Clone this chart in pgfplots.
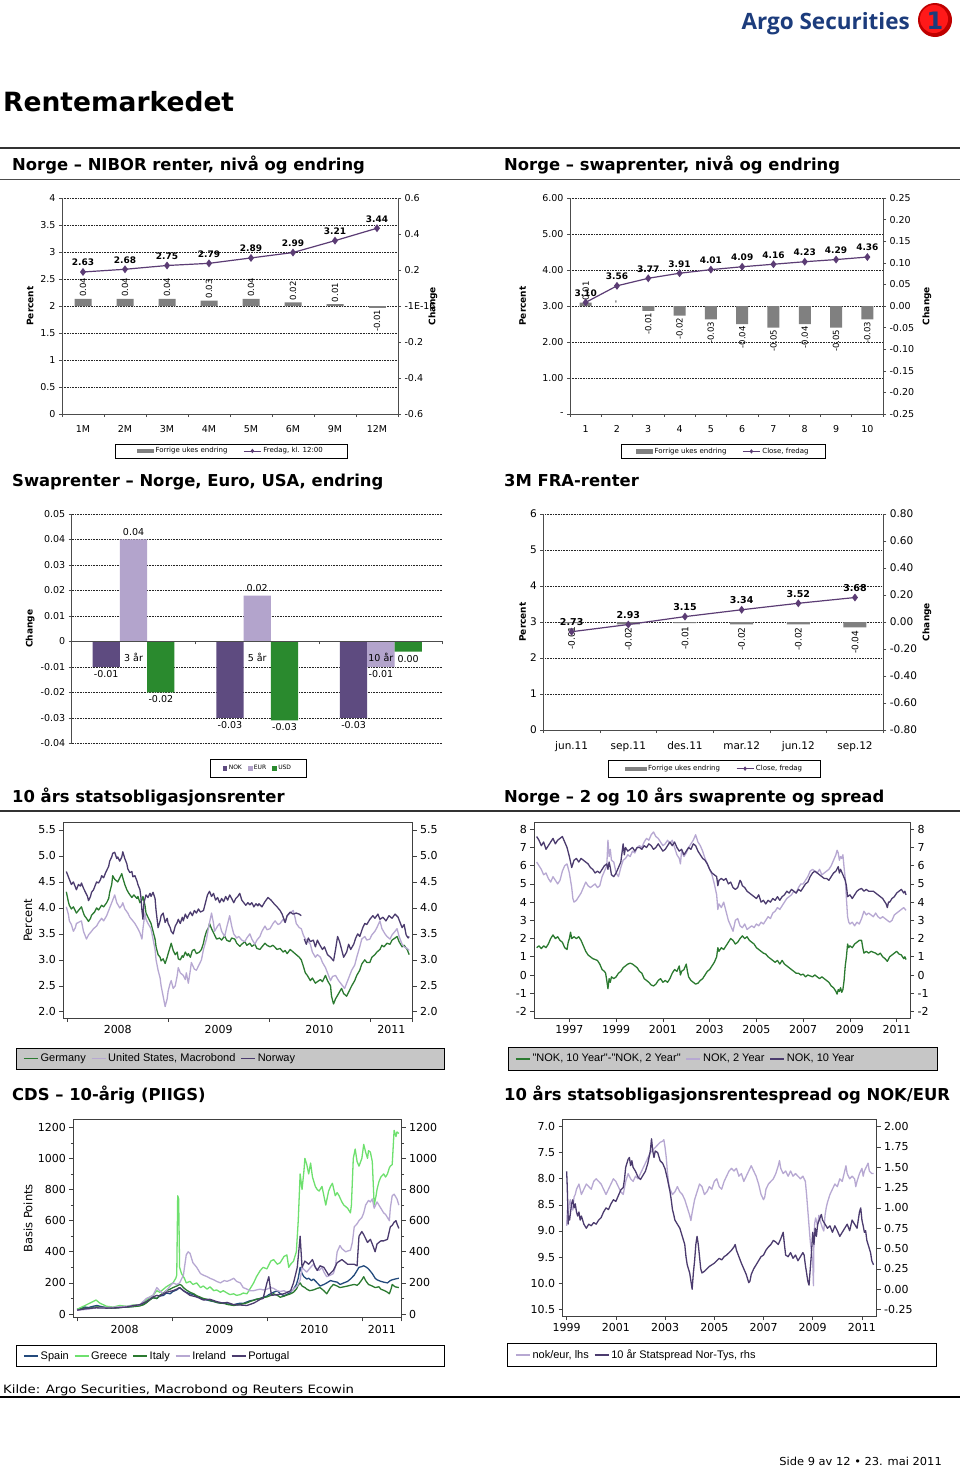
\documentclass[border=0pt]{standalone}
\usepackage{fontspec}
\setmainfont{DejaVu Sans}
\newfontfamily\arialfont{Liberation Sans}
\newfontfamily\logofont{Open Sans}
\usepackage{graphicx}
\usepackage{pgfplots}
\pgfplotsset{compat=1.18}
\newcommand{\fsz}[1]{\fontsize{#1}{#1}\selectfont}

\definecolor{linepurple}{HTML}{5B3C74}
\definecolor{barGray}{HTML}{808080}
\definecolor{nokc}{HTML}{5E4B80}
\definecolor{eurc}{HTML}{B3A4CC}
\definecolor{usdc}{HTML}{2A8A2E}
\definecolor{darkpurple}{HTML}{4B3B6E}
\definecolor{lightpurple}{HTML}{B7A8D2}
\definecolor{dkgreen}{HTML}{2B7A30}
\definecolor{ltgreen}{HTML}{6EE06E}
\definecolor{navy}{HTML}{234A7C}
\definecolor{logoblue}{HTML}{1C3C7C}
\definecolor{legfill}{HTML}{C6C6C6}

\pgfplotsset{
  /pgf/number format/assume math mode=true,
  cbase/.style={scale only axis, anchor=north west, clip=false,
    scaled x ticks=false, scaled y ticks=false,
    axis line style={black!70, line width=0.7pt},
    tick style={black!70, line width=0.6pt},
    tick align=outside, major tick length=3pt,
    ticklabel style={font=\fsz{9.5}},
    xticklabel style={yshift=-5pt},
    ylabel style={font=\bfseries\fsz{9}, anchor=center},
    major grid style={black!85, line width=0.6pt, dash pattern=on 0.8pt off 0.8pt},
    legend style={draw=none, fill=none, font=\fsz{7}, legend columns=2, anchor=center,
      /tikz/every even column/.append style={column sep=14pt}},
  },
  hid/.style={scale only axis, anchor=north west, hide axis, clip=false},
  tsbase/.style={scale only axis, anchor=north west,
    scaled x ticks=false, scaled y ticks=false,
    axis line style={black!75, line width=0.8pt},
    tick style={black!75, line width=0.6pt},
    tick align=outside, major tick length=4pt, minor tick length=2.5pt,
    ticklabel style={font=\fsz{11}},
    ylabel style={font=\fsz{11.5}, anchor=center},
    every axis plot/.append style={line width=1.3pt, line join=round},
    legend style={draw=none, fill=none, font=\arialfont\fsz{11}, legend columns=-1, anchor=west,
      /tikz/every even column/.append style={column sep=3pt}},
    legend image code/.code={\draw[##1, line width=1.4pt] (0pt,0pt) -- (14pt,0pt);},
  },
}

\begin{document}
\begin{tikzpicture}
\path[use as bounding box, fill=white] (0pt,0pt) rectangle (960pt,-1467pt);

% ---------- page furniture
\node[anchor=base east, font=\logofont\bfseries\fsz{22.5}, text=logoblue, inner sep=0pt] at (910pt,-29pt) {Argo Securities};
\fill[red!75!black] (935pt,-20pt) circle (17pt);
\fill[red!90] (934pt,-19pt) circle (14pt);
\node[font=\bfseries\fsz{24}, text=logoblue] at (935pt,-21pt) {1};
\node[anchor=base west, font=\bfseries\fsz{26.5}, inner sep=0pt] at (3pt,-111pt) {Rentemarkedet};
\draw[line width=1.6pt, black!80] (0pt,-148pt) -- (960pt,-148pt);
\draw[line width=1pt, black!70] (0pt,-179pt) -- (960pt,-179pt);
\begin{scope}[every node/.style={anchor=base west, font=\bfseries\fsz{16.4}, inner sep=0pt}]
\node at (12pt,-170pt) {Norge – NIBOR renter, nivå og endring};
\node at (504pt,-170pt) {Norge – swaprenter, nivå og endring};
\node at (12pt,-486pt) {Swaprenter – Norge, Euro, USA, endring};
\node at (504pt,-486pt) {3M FRA-renter};
\node at (12pt,-802pt) {10 års statsobligasjonsrenter};
\node at (504pt,-802pt) {Norge – 2 og 10 års swaprente og spread};
\node at (12pt,-1100pt) {CDS – 10-årig (PIIGS)};
\node at (504pt,-1100pt) {10 års statsobligasjonsrentespread og NOK/EUR};
\end{scope}
\draw[line width=1.6pt, black!80] (0pt,-811pt) -- (960pt,-811pt);
\node[anchor=base west, font=\fsz{11.5}, inner sep=0pt] at (3pt,-1393pt) {\scalebox{1.15}[1]{Kilde: Argo Securities, Macrobond og Reuters Ecowin}};
\draw[line width=2pt, black] (0pt,-1397pt) -- (960pt,-1397pt);
\node[anchor=base east, font=\fsz{11}, inner sep=0pt] at (942pt,-1465pt) {\scalebox{1.04}[1]{Side 9 av 12 • 23. mai 2011}};

% legend frames
\draw[black, line width=0.6pt] (115pt,-444pt) rectangle (347pt,-458pt);
\draw[black, line width=0.6pt] (621.7pt,-444.3pt) rectangle (825pt,-458.3pt);
\draw[black, line width=0.6pt] (210pt,-759pt) rectangle (306pt,-777pt);
\draw[black, line width=0.6pt] (608.3pt,-760pt) rectangle (820.7pt,-777.3pt);
\draw[black, line width=0.7pt, fill=legfill] (16pt,-1048pt) rectangle (444pt,-1069pt);
\draw[black, line width=0.7pt, fill=legfill] (508pt,-1047.7pt) rectangle (937pt,-1070pt);
\draw[black, line width=0.7pt] (16pt,-1345.7pt) rectangle (444pt,-1366.7pt);
\draw[black, line width=0.7pt] (507.7pt,-1343.3pt) rectangle (936.7pt,-1366.7pt);

% ================= P1 NIBOR
\begin{axis}[cbase, at={(62pt,-198pt)}, width=336pt, height=216pt,
  xmin=0.5, xmax=8.5, ymin=0, ymax=4,
  axis x line*=bottom, axis y line*=left,
  xtick={0.5,1.5,2.5,3.5,4.5,5.5,6.5,7.5,8.5}, x tick label as interval,
  xticklabels={1M,2M,3M,4M,5M,6M,9M,12M},
  ytick={0,0.5,1,1.5,2,2.5,3,3.5,4}, yticklabels={0,0.5,1,1.5,2,2.5,3,3.5,4},
  ymajorgrids,
  ylabel={Percent}, ylabel style={at={(axis description cs:-0.095,0.5)}},
  legend style={at={(axis description cs:0.503,-0.171)}}]
\addlegendimage{legend image code/.code={\fill[barGray] (0pt,-1.7pt) rectangle (16pt,1.7pt);}}
\addlegendentry{Forrige ukes endring}
\addlegendimage{linepurple, line width=0.8pt, mark=diamond*, mark size=1.6pt}
\addlegendentry{Fredag, kl. 12:00}
\end{axis}
\begin{axis}[cbase, at={(62pt,-198pt)}, width=336pt, height=216pt,
  xmin=0.5, xmax=8.5, ymin=-0.6, ymax=0.6,
  axis y line*=right, axis x line=none,
  ytick={-0.6,-0.4,-0.2,0,0.2,0.4,0.6}, yticklabels={-0.6,-0.4,-0.2,-1E-16,0.2,0.4,0.6},
  ylabel={Change}, ylabel style={at={(axis description cs:1.104,0.5)}}]
\addplot[ybar, bar width=17pt, bar shift=0pt, fill=barGray, draw=none, nodes near coords, point meta=explicit symbolic,
  every node near coord/.style={rotate=90, anchor=west, font=\fsz{8.5}, inner sep=2pt, text=black}]
  coordinates {(1,0.04)[0.04] (2,0.04)[0.04] (3,0.04)[0.04] (4,0.03)[0.03] (5,0.04)[0.04] (6,0.02)[0.02] (7,0.01)[0.01]};
\addplot[ybar, bar width=17pt, bar shift=0pt, fill=barGray, draw=none, nodes near coords, point meta=explicit symbolic,
  every node near coord/.style={rotate=90, anchor=east, font=\fsz{8.5}, inner sep=2pt, text=black}]
  coordinates {(8,-0.01)[-0.01]};
\end{axis}
\begin{axis}[hid, at={(62pt,-198pt)}, width=336pt, height=216pt, xmin=0.5, xmax=8.5, ymin=0, ymax=4]
\addplot[linepurple, line width=1.2pt, mark=diamond*, mark size=3pt, nodes near coords, point meta=explicit symbolic,
  every node near coord/.style={anchor=south, font=\bfseries\fsz{9}, text=black, yshift=2pt}]
  coordinates {(1,2.63)[2.63] (2,2.68)[2.68] (3,2.75)[2.75] (4,2.79)[2.79] (5,2.89)[2.89] (6,2.99)[2.99] (7,3.21)[3.21] (8,3.44)[3.44]};
\end{axis}

% ================= P2 swap
\begin{axis}[cbase, at={(570pt,-198pt)}, width=313pt, height=216pt,
  xmin=0.5, xmax=10.5, ymin=0, ymax=6,
  axis x line*=bottom, axis y line*=left,
  xtick={0.5,1.5,2.5,3.5,4.5,5.5,6.5,7.5,8.5,9.5,10.5}, x tick label as interval,
  xticklabels={1,2,3,4,5,6,7,8,9,10},
  ytick={0,1,2,3,4,5,6}, yticklabels={-,1.00,2.00,3.00,4.00,5.00,6.00},
  ymajorgrids,
  ylabel={Percent}, ylabel style={at={(axis description cs:-0.151,0.5)}},
  legend style={at={(axis description cs:0.49,-0.173)}}]
\addlegendimage{legend image code/.code={\fill[barGray] (0pt,-1.7pt) rectangle (16pt,1.7pt);}}
\addlegendentry{Forrige ukes endring}
\addlegendimage{linepurple, line width=0.8pt, mark=diamond*, mark size=1.6pt}
\addlegendentry{Close, fredag}
\end{axis}
\begin{axis}[cbase, at={(570pt,-198pt)}, width=313pt, height=216pt,
  xmin=0.5, xmax=10.5, ymin=-0.25, ymax=0.25,
  axis y line*=right, axis x line=none,
  ytick={-0.25,-0.2,-0.15,-0.1,-0.05,0,0.05,0.1,0.15,0.2,0.25},
  yticklabels={-0.25,-0.20,-0.15,-0.10,-0.05,0.00,0.05,0.10,0.15,0.20,0.25},
  ylabel={Change}, ylabel style={at={(axis description cs:1.14,0.5)}}]
\addplot[ybar, bar width=12pt, bar shift=0pt, fill=barGray, draw=none, nodes near coords, point meta=explicit symbolic,
  every node near coord/.style={rotate=90, anchor=west, font=\fsz{8.5}, inner sep=2pt, text=black}]
  coordinates {(1,0.008)[0.01] (2,0)[-]};
\addplot[ybar, bar width=12pt, bar shift=0pt, fill=barGray, draw=none, nodes near coords, point meta=explicit symbolic,
  every node near coord/.style={rotate=90, anchor=east, font=\fsz{8.5}, inner sep=2pt, text=black}]
  coordinates {(3,-0.011)[-0.01] (4,-0.022)[-0.02] (5,-0.031)[-0.03] (6,-0.042)[-0.04] (7,-0.05)[-0.05] (8,-0.042)[-0.04] (9,-0.05)[-0.05] (10,-0.031)[-0.03]};
\end{axis}
\begin{axis}[hid, at={(570pt,-198pt)}, width=313pt, height=216pt, xmin=0.5, xmax=10.5, ymin=0, ymax=6]
\addplot[linepurple, line width=1.2pt, mark=diamond*, mark size=3pt, nodes near coords, point meta=explicit symbolic,
  every node near coord/.style={anchor=south, font=\bfseries\fsz{9}, text=black, yshift=2pt}]
  coordinates {(1,3.10)[3.10] (2,3.56)[3.56] (3,3.77)[3.77] (4,3.91)[3.91] (5,4.01)[4.01] (6,4.09)[4.09] (7,4.16)[4.16] (8,4.23)[4.23] (9,4.29)[4.29] (10,4.36)[4.36]};
\end{axis}

% ================= P3 swap changes
\begin{axis}[cbase, at={(71.7pt,-514pt)}, width=371pt, height=229.3pt,
  xmin=0.5, xmax=3.5, ymin=-0.04, ymax=0.05,
  axis x line*=middle, axis y line*=left,
  xtick={0.5,1.5,2.5,3.5}, x tick label as interval, xticklabels={,,},
  ytick={-0.04,-0.03,-0.02,-0.01,0,0.01,0.02,0.03,0.04,0.05},
  yticklabels={-0.04,-0.03,-0.02,-0.01,0,0.01,0.02,0.03,0.04,0.05},
  ymajorgrids,
  ylabel={Change}, ylabel style={at={(axis description cs:-0.112,0.5)}},
  legend style={at={(axis description cs:0.502,-0.1077)}, font=\fsz{6}, legend columns=3,
    /tikz/every even column/.append style={column sep=4pt}}]
\addlegendimage{legend image code/.code={\fill[nokc] (0pt,-1.8pt) rectangle (3.6pt,1.8pt);}}
\addlegendentry{NOK}
\addlegendimage{legend image code/.code={\fill[eurc] (0pt,-1.8pt) rectangle (3.6pt,1.8pt);}}
\addlegendentry{EUR}
\addlegendimage{legend image code/.code={\fill[usdc] (0pt,-1.8pt) rectangle (3.6pt,1.8pt);}}
\addlegendentry{USD}
\addplot[ybar, forget plot, bar width=27.3pt, bar shift=-27.3pt, fill=nokc, draw=none]
  coordinates {(1,-0.01) (2,-0.03) (3,-0.03)};
\addplot[ybar, forget plot, bar width=27.3pt, bar shift=0pt, fill=eurc, draw=none]
  coordinates {(1,0.04) (2,0.018) (3,-0.01)};
\addplot[ybar, forget plot, bar width=27.3pt, bar shift=27.3pt, fill=usdc, draw=none]
  coordinates {(1,-0.02) (2,-0.031) (3,-0.004)};
% value labels at the bar centres (bar width = 0.2208 x-units)
\addplot[draw=none, mark=none, forget plot, nodes near coords, point meta=explicit symbolic,
  every node near coord/.style={anchor=south, font=\fsz{9.5}, text=black}]
  coordinates {(1,0.04)[0.04] (2,0.018)[0.02]};
\addplot[draw=none, mark=none, forget plot, nodes near coords, point meta=explicit symbolic,
  every node near coord/.style={anchor=north, font=\fsz{9.5}, text=black}]
  coordinates {(0.7792,-0.01)[-0.01] (1.7792,-0.03)[-0.03] (2.7792,-0.03)[-0.03] (3,-0.01)[-0.01] (1.2208,-0.02)[-0.02] (2.2208,-0.031)[-0.03] (3.2208,-0.004)[0.00]};
\end{axis}
\begin{axis}[cbase, at={(71.7pt,-514pt)}, width=371pt, height=229.3pt,
  xmin=0.5, xmax=3.5, ymin=-0.04, ymax=0.05,
  axis x line*=middle, axis y line=none,
  xtick={0.5,1.5,2.5,3.5}, x tick label as interval, xticklabels={3 år,5 år,10 år},
  xticklabel style={yshift=0pt}, xtick style={draw=none}]
\end{axis}

% ================= P4 FRA
\begin{axis}[cbase, at={(543.3pt,-514pt)}, width=340pt, height=216pt,
  ticklabel style={font=\fsz{10.5}},
  xmin=0.5, xmax=6.5, ymin=0, ymax=6,
  axis x line*=bottom, axis y line*=left,
  xtick={0.5,1.5,2.5,3.5,4.5,5.5,6.5}, x tick label as interval,
  xticklabels={jun.11,sep.11,des.11,mar.12,jun.12,sep.12},
  ytick={0,1,2,3,4,5,6}, yticklabels={0,1,2,3,4,5,6},
  ymajorgrids,
  ylabel={Percent}, ylabel style={at={(axis description cs:-0.0606,0.5)}},
  legend style={at={(axis description cs:0.5035,-0.179)}}]
\addlegendimage{legend image code/.code={\fill[barGray] (0pt,-1.7pt) rectangle (21pt,1.7pt);}}
\addlegendentry{Forrige ukes endring}
\addlegendimage{linepurple, line width=0.8pt, mark=diamond*, mark size=1.6pt}
\addlegendentry{Close, fredag}
\end{axis}
\begin{axis}[cbase, at={(543.3pt,-514pt)}, width=340pt, height=216pt,
  ticklabel style={font=\fsz{10.5}},
  xmin=0.5, xmax=6.5, ymin=-0.8, ymax=0.8,
  axis y line*=right, axis x line=none,
  ytick={-0.8,-0.6,-0.4,-0.2,0,0.2,0.4,0.6,0.8},
  yticklabels={-0.80,-0.60,-0.40,-0.20,0.00,0.20,0.40,0.60,0.80},
  ylabel={Change}, ylabel style={at={(axis description cs:1.128,0.5)}}]
\addplot[ybar, bar width=23pt, bar shift=0pt, fill=barGray, draw=none, nodes near coords, point meta=explicit symbolic,
  every node near coord/.style={rotate=90, anchor=east, font=\fsz{9}, inner sep=3pt, text=black}]
  coordinates {(1,-0.008)[-0.01] (2,-0.017)[-0.02] (3,-0.008)[-0.01] (4,-0.017)[-0.02] (5,-0.017)[-0.02] (6,-0.04)[-0.04]};
\end{axis}
\begin{axis}[hid, at={(543.3pt,-514pt)}, width=340pt, height=216pt, xmin=0.5, xmax=6.5, ymin=0, ymax=6]
\addplot[linepurple, line width=1.2pt, mark=diamond*, mark size=3pt, nodes near coords, point meta=explicit symbolic,
  every node near coord/.style={anchor=south, font=\bfseries\fsz{9.5}, text=black, yshift=2pt}]
  coordinates {(1,2.73)[2.73] (2,2.93)[2.93] (3,3.15)[3.15] (4,3.34)[3.34] (5,3.52)[3.52] (6,3.68)[3.68]};
\end{axis}

% ================= P5 10y government yields
\begin{axis}[tsbase, at={(63.3pt,-822.7pt)}, width=349.4pt, height=195.3pt,
  xmin=2007.96, xmax=2011.425, ymin=1.88, ymax=5.64,
  ytick pos=left, xtick pos=left, unbounded coords=jump,
  xtick={2008,2009,2010,2011,2011.425}, x tick label as interval, xticklabels={2008,2009,2010,2011},
  ytick={2,2.5,3,3.5,4,4.5,5,5.5}, yticklabels={2.0,2.5,3.0,3.5,4.0,4.5,5.0,5.5},
  ylabel={Percent}, ylabel style={at={(axis description cs:-0.101,0.5)}},
  legend style={at={(axis description cs:-0.124,-0.2074)}}]
\addplot[dkgreen] coordinates {(2007.99,4.31)(2008.01,4.12)(2008.02,4.05)(2008.04,3.98)(2008.06,4.02)(2008.09,3.90)(2008.11,3.95)(2008.14,4.02)(2008.16,3.90)(2008.17,3.85)(2008.19,3.80)(2008.21,3.74)(2008.23,3.80)(2008.24,3.86)(2008.27,3.92)(2008.29,4.00)(2008.31,3.96)(2008.34,4.05)(2008.36,4.02)(2008.39,4.10)(2008.41,4.18)(2008.42,4.30)(2008.44,4.45)(2008.45,4.62)(2008.47,4.55)(2008.50,4.50)(2008.52,4.58)(2008.54,4.66)(2008.55,4.58)(2008.57,4.45)(2008.59,4.35)(2008.61,4.28)(2008.64,4.20)(2008.66,4.25)(2008.69,4.18)(2008.70,4.22)(2008.72,4.10)(2008.74,4.15)(2008.75,4.22)(2008.77,4.05)(2008.78,3.90)(2008.80,3.82)(2008.83,3.70)(2008.85,3.55)(2008.87,3.40)(2008.88,3.25)(2008.90,3.10)(2008.92,3.05)(2008.93,2.98)(2008.95,3.02)(2008.97,2.93)(2008.99,3.05)(2009.00,3.12)(2009.02,3.25)(2009.03,3.32)(2009.05,3.18)(2009.07,3.10)(2009.09,3.15)(2009.10,3.02)(2009.12,3.00)(2009.14,3.08)(2009.15,3.05)(2009.17,3.15)(2009.19,3.08)(2009.20,3.12)(2009.22,3.05)(2009.24,3.18)(2009.26,3.20)(2009.28,3.12)(2009.31,3.15)(2009.33,3.20)(2009.35,3.32)(2009.36,3.42)(2009.38,3.55)(2009.40,3.62)(2009.41,3.70)(2009.43,3.60)(2009.45,3.52)(2009.46,3.48)(2009.48,3.40)(2009.51,3.42)(2009.53,3.38)(2009.56,3.46)(2009.58,3.38)(2009.61,3.35)(2009.63,3.42)(2009.66,3.40)(2009.68,3.32)(2009.71,3.26)(2009.73,3.30)(2009.76,3.35)(2009.78,3.28)(2009.81,3.32)(2009.83,3.26)(2009.86,3.30)(2009.88,3.22)(2009.91,3.20)(2009.93,3.25)(2009.96,3.32)(2009.98,3.28)(2010.01,3.25)(2010.04,3.28)(2010.08,3.20)(2010.11,3.22)(2010.14,3.15)(2010.16,3.18)(2010.18,3.12)(2010.21,3.20)(2010.24,3.15)(2010.27,3.10)(2010.30,3.05)(2010.32,3.00)(2010.34,2.88)(2010.36,2.75)(2010.38,2.70)(2010.41,2.60)(2010.43,2.65)(2010.46,2.55)(2010.48,2.58)(2010.51,2.62)(2010.53,2.58)(2010.56,2.70)(2010.58,2.60)(2010.61,2.50)(2010.62,2.30)(2010.64,2.15)(2010.66,2.25)(2010.69,2.35)(2010.71,2.42)(2010.72,2.45)(2010.74,2.35)(2010.77,2.30)(2010.79,2.38)(2010.82,2.50)(2010.85,2.60)(2010.87,2.70)(2010.90,2.80)(2010.92,2.92)(2010.95,3.00)(2010.97,2.95)(2011.00,2.95)(2011.02,3.05)(2011.05,3.10)(2011.07,3.15)(2011.10,3.20)(2011.12,3.28)(2011.14,3.25)(2011.17,3.32)(2011.20,3.30)(2011.22,3.38)(2011.25,3.42)(2011.27,3.45)(2011.29,3.35)(2011.32,3.25)(2011.34,3.28)(2011.37,3.20)(2011.39,3.10)};
\addlegendentry{Germany}
\addplot[lightpurple] coordinates {(2007.99,4.02)(2008.01,3.88)(2008.02,3.75)(2008.04,3.68)(2008.06,3.55)(2008.08,3.62)(2008.09,3.70)(2008.11,3.72)(2008.14,3.75)(2008.16,3.55)(2008.17,3.50)(2008.19,3.40)(2008.21,3.48)(2008.24,3.55)(2008.26,3.60)(2008.29,3.65)(2008.31,3.72)(2008.34,3.80)(2008.36,3.75)(2008.39,3.85)(2008.41,3.95)(2008.44,4.10)(2008.45,4.15)(2008.47,4.25)(2008.49,4.10)(2008.52,4.00)(2008.54,4.05)(2008.55,4.10)(2008.57,3.98)(2008.60,3.90)(2008.62,3.82)(2008.65,3.75)(2008.67,3.70)(2008.70,3.60)(2008.72,3.52)(2008.74,3.40)(2008.75,3.60)(2008.77,3.90)(2008.78,3.78)(2008.80,3.70)(2008.83,3.60)(2008.85,3.40)(2008.87,3.20)(2008.88,3.00)(2008.90,2.80)(2008.92,2.65)(2008.93,2.50)(2008.95,2.30)(2008.97,2.10)(2008.99,2.25)(2009.00,2.40)(2009.02,2.55)(2009.03,2.60)(2009.05,2.45)(2009.07,2.50)(2009.09,2.70)(2009.10,2.85)(2009.12,2.75)(2009.15,2.70)(2009.17,2.62)(2009.18,2.75)(2009.20,2.55)(2009.22,2.80)(2009.23,2.95)(2009.26,2.82)(2009.28,2.80)(2009.31,2.92)(2009.33,3.00)(2009.35,3.20)(2009.38,3.40)(2009.40,3.62)(2009.43,3.90)(2009.45,3.70)(2009.46,3.55)(2009.49,3.65)(2009.51,3.70)(2009.53,3.55)(2009.56,3.45)(2009.58,3.62)(2009.61,3.85)(2009.63,3.65)(2009.65,3.50)(2009.68,3.42)(2009.70,3.45)(2009.73,3.38)(2009.76,3.35)(2009.78,3.42)(2009.81,3.50)(2009.83,3.40)(2009.86,3.30)(2009.88,3.38)(2009.91,3.45)(2009.93,3.55)(2009.96,3.65)(2009.98,3.58)(2010.01,3.60)(2010.04,3.70)(2010.06,3.75)(2010.09,3.68)(2010.11,3.70)(2010.14,3.78)(2010.16,3.72)(2010.18,3.85)(2010.21,3.90)(2010.24,3.95)(2010.26,3.80)(2010.27,3.70)(2010.30,3.62)(2010.32,3.60)(2010.34,3.48)(2010.36,3.40)(2010.39,3.35)(2010.41,3.30)(2010.43,3.15)(2010.46,3.05)(2010.48,3.10)(2010.51,3.05)(2010.53,2.95)(2010.56,2.85)(2010.58,2.75)(2010.61,2.60)(2010.63,2.68)(2010.66,2.70)(2010.69,2.60)(2010.71,2.55)(2010.73,2.50)(2010.75,2.45)(2010.77,2.55)(2010.80,2.70)(2010.82,2.80)(2010.85,2.90)(2010.87,3.05)(2010.90,3.25)(2010.92,3.40)(2010.95,3.45)(2010.97,3.38)(2011.00,3.40)(2011.02,3.48)(2011.05,3.55)(2011.07,3.62)(2011.10,3.75)(2011.12,3.60)(2011.15,3.50)(2011.17,3.45)(2011.20,3.40)(2011.22,3.48)(2011.25,3.55)(2011.27,3.60)(2011.29,3.45)(2011.32,3.30)(2011.34,3.25)(2011.37,3.22)(2011.39,3.18)};
\addlegendentry{United States, Macrobond}
\addplot[darkpurple] coordinates {(2007.99,4.70)(2008.01,4.60)(2008.02,4.55)(2008.04,4.45)(2008.06,4.50)(2008.08,4.40)(2008.09,4.35)(2008.11,4.45)(2008.13,4.42)(2008.14,4.48)(2008.16,4.38)(2008.18,4.30)(2008.20,4.22)(2008.21,4.14)(2008.23,4.22)(2008.24,4.30)(2008.26,4.35)(2008.28,4.45)(2008.29,4.50)(2008.31,4.48)(2008.33,4.55)(2008.34,4.62)(2008.36,4.58)(2008.38,4.68)(2008.39,4.72)(2008.41,4.80)(2008.42,4.90)(2008.44,4.98)(2008.45,5.05)(2008.47,5.07)(2008.49,4.95)(2008.50,4.98)(2008.52,4.90)(2008.54,4.98)(2008.55,5.08)(2008.57,4.95)(2008.59,4.85)(2008.60,4.75)(2008.62,4.68)(2008.64,4.70)(2008.65,4.60)(2008.67,4.62)(2008.69,4.52)(2008.70,4.45)(2008.72,4.35)(2008.73,4.20)(2008.74,3.95)(2008.75,3.78)(2008.76,4.10)(2008.78,4.25)(2008.80,4.20)(2008.82,4.28)(2008.83,4.22)(2008.85,4.30)(2008.87,4.18)(2008.88,3.95)(2008.90,3.62)(2008.92,3.75)(2008.93,3.85)(2008.95,3.90)(2008.97,3.72)(2008.99,3.80)(2009.00,3.70)(2009.02,3.62)(2009.03,3.55)(2009.05,3.50)(2009.07,3.65)(2009.09,3.72)(2009.10,3.78)(2009.12,3.70)(2009.14,3.82)(2009.15,3.75)(2009.17,3.88)(2009.19,3.80)(2009.20,3.85)(2009.22,3.92)(2009.24,3.85)(2009.26,3.95)(2009.28,3.90)(2009.30,3.98)(2009.32,3.92)(2009.35,3.95)(2009.37,4.10)(2009.39,4.25)(2009.41,4.32)(2009.43,4.22)(2009.45,4.28)(2009.47,4.15)(2009.49,4.20)(2009.51,4.10)(2009.53,4.18)(2009.55,4.12)(2009.57,4.22)(2009.59,4.15)(2009.61,4.25)(2009.63,4.18)(2009.65,4.10)(2009.67,4.18)(2009.69,4.22)(2009.71,4.28)(2009.73,4.15)(2009.75,4.10)(2009.77,4.05)(2009.79,4.10)(2009.81,4.06)(2009.83,4.10)(2009.85,4.02)(2009.87,4.08)(2009.89,4.04)(2009.90,4.08)(2009.93,4.02)(2009.96,4.12)(2009.99,4.20)(2010.02,4.15)(2010.05,4.08)(2010.08,4.02)(2010.11,3.95)(2010.13,3.88)(2010.16,3.72)(2010.18,3.85)(2010.21,3.92)(2010.24,3.88)(2010.27,3.90)(2010.30,3.88)(2010.32,3.85)(2010.335,nan)(2010.35,3.40)(2010.37,3.30)(2010.39,3.42)(2010.41,3.35)(2010.44,3.38)(2010.46,3.25)(2010.48,3.38)(2010.50,3.30)(2010.53,3.20)(2010.55,3.25)(2010.58,3.10)(2010.61,3.05)(2010.64,2.98)(2010.66,3.20)(2010.68,3.45)(2010.70,3.35)(2010.72,3.20)(2010.74,3.05)(2010.77,3.15)(2010.79,3.30)(2010.81,3.20)(2010.84,3.30)(2010.86,3.42)(2010.88,3.50)(2010.90,3.45)(2010.93,3.62)(2010.95,3.70)(2010.97,3.68)(2011.00,3.78)(2011.03,3.85)(2011.05,3.80)(2011.08,3.88)(2011.10,3.78)(2011.13,3.82)(2011.16,3.75)(2011.19,3.85)(2011.22,3.80)(2011.25,3.88)(2011.28,3.82)(2011.30,3.72)(2011.32,3.62)(2011.34,3.68)(2011.36,3.48)(2011.38,3.42)(2011.39,3.45)};
\addlegendentry{Norway}
\end{axis}
\begin{axis}[tsbase, at={(63.3pt,-822.7pt)}, width=349.4pt, height=195.3pt,
  xmin=2007.96, xmax=2011.425, ymin=1.88, ymax=5.64,
  axis y line*=right, axis x line=none,
  ytick={2,2.5,3,3.5,4,4.5,5,5.5}, yticklabels={2.0,2.5,3.0,3.5,4.0,4.5,5.0,5.5}]
\end{axis}

% ================= P6 NOK swap 2y/10y and spread
\begin{axis}[tsbase, at={(534.3pt,-822.7pt)}, width=375.7pt, height=195.3pt,
  xmin=1995.5, xmax=2011.57, ymin=-2.36, ymax=8.36,
  ytick pos=left, xtick pos=left,
  xtick={1997,1999,2001,2003,2005,2007,2009,2011}, xticklabels={1997,1999,2001,2003,2005,2007,2009,2011},
  ytick={-2,-1,0,1,2,3,4,5,6,7,8}, yticklabels={-2,-1,0,1,2,3,4,5,6,7,8},
  legend style={at={(axis description cs:-0.0594,-0.2094)}}]
\addplot[dkgreen] coordinates {(1995.6,1.5)(1995.7,1.6)(1995.8,1.45)(1995.9,1.6)(1996.0,1.5)(1996.1,1.7)(1996.2,2.0)(1996.3,2.2)(1996.4,2.0)(1996.5,2.1)(1996.6,1.9)(1996.7,1.8)(1996.8,1.5)(1996.9,1.4)(1996.95,1.8)(1997.0,2.0)(1997.05,2.35)(1997.1,2.0)(1997.2,2.1)(1997.3,2.0)(1997.4,2.1)(1997.5,1.9)(1997.6,1.6)(1997.7,1.3)(1997.8,1.1)(1997.9,1.0)(1998.0,0.9)(1998.1,0.85)(1998.2,0.8)(1998.3,0.6)(1998.4,0.3)(1998.5,0.2)(1998.55,0.1)(1998.6,-0.3)(1998.65,-0.75)(1998.7,-0.2)(1998.75,-0.4)(1998.8,-0.1)(1998.9,-0.2)(1999.0,-0.1)(1999.1,0.1)(1999.2,0.2)(1999.3,0.4)(1999.4,0.5)(1999.5,0.6)(1999.6,0.65)(1999.7,0.6)(1999.8,0.5)(1999.9,0.4)(2000.0,0.2)(2000.1,0.1)(2000.2,-0.2)(2000.3,-0.3)(2000.4,-0.4)(2000.5,-0.55)(2000.6,-0.6)(2000.7,-0.5)(2000.8,-0.3)(2000.9,-0.2)(2001.0,-0.4)(2001.1,-0.3)(2001.2,-0.4)(2001.3,-0.2)(2001.4,0.1)(2001.5,0.3)(2001.6,0.2)(2001.7,0.5)(2001.75,0.0)(2001.8,0.2)(2001.9,0.3)(2002.0,0.6)(2002.05,0.2)(2002.1,-0.1)(2002.2,-0.3)(2002.3,-0.4)(2002.4,-0.5)(2002.5,-0.45)(2002.6,-0.3)(2002.7,-0.2)(2002.8,0.0)(2002.9,0.2)(2003.0,0.3)(2003.1,0.5)(2003.2,0.7)(2003.3,1.0)(2003.35,1.5)(2003.4,1.3)(2003.5,1.5)(2003.6,1.4)(2003.7,1.6)(2003.8,1.8)(2003.9,2.0)(2004.0,1.9)(2004.1,1.7)(2004.2,1.8)(2004.3,2.0)(2004.4,2.15)(2004.5,2.0)(2004.6,2.1)(2004.7,1.9)(2004.8,1.8)(2004.9,1.7)(2005.0,1.5)(2005.1,1.4)(2005.2,1.3)(2005.3,1.2)(2005.4,1.15)(2005.5,1.0)(2005.6,0.9)(2005.7,0.8)(2005.8,0.7)(2005.9,0.8)(2006.0,0.6)(2006.1,0.8)(2006.2,0.6)(2006.3,0.5)(2006.4,0.4)(2006.5,0.3)(2006.6,0.2)(2006.7,0.1)(2006.8,0.1)(2006.9,0.0)(2007.0,0.05)(2007.1,-0.1)(2007.2,0.0)(2007.3,-0.05)(2007.4,-0.1)(2007.5,0.0)(2007.6,-0.1)(2007.7,-0.2)(2007.8,-0.1)(2007.9,-0.2)(2008.0,-0.3)(2008.1,-0.4)(2008.2,-0.6)(2008.3,-0.7)(2008.4,-0.9)(2008.45,-1.05)(2008.5,-0.8)(2008.55,-0.9)(2008.6,-0.7)(2008.65,-0.95)(2008.7,-0.8)(2008.75,-0.3)(2008.8,0.5)(2008.85,1.0)(2008.9,1.7)(2008.95,1.5)(2009.0,1.6)(2009.1,1.5)(2009.2,1.7)(2009.3,1.8)(2009.4,1.9)(2009.5,1.9)(2009.55,1.5)(2009.6,1.2)(2009.7,1.3)(2009.8,1.2)(2009.9,1.3)(2010.0,1.25)(2010.1,1.2)(2010.2,1.1)(2010.3,1.2)(2010.4,1.0)(2010.5,0.9)(2010.6,0.75)(2010.7,1.0)(2010.8,1.1)(2010.9,1.2)(2011.0,1.3)(2011.1,1.15)(2011.2,1.1)(2011.3,0.9)(2011.35,1.0)(2011.4,0.85)};
\addlegendentry{"NOK, 10 Year"-"NOK, 2 Year"}
\addplot[lightpurple] coordinates {(1995.6,6.2)(1995.7,6.0)(1995.8,5.8)(1995.9,5.5)(1996.0,5.6)(1996.1,5.3)(1996.2,5.1)(1996.3,5.4)(1996.4,5.2)(1996.5,5.0)(1996.6,5.2)(1996.7,5.7)(1996.8,6.0)(1996.9,6.1)(1997.0,5.6)(1997.1,4.8)(1997.15,4.2)(1997.2,4.0)(1997.3,4.1)(1997.4,4.3)(1997.5,4.5)(1997.6,4.8)(1997.7,5.1)(1997.8,4.9)(1997.9,4.8)(1998.0,4.9)(1998.1,5.0)(1998.2,4.8)(1998.3,4.9)(1998.4,5.4)(1998.5,5.7)(1998.6,6.0)(1998.65,7.4)(1998.7,6.5)(1998.75,6.9)(1998.8,6.3)(1998.9,6.2)(1999.0,5.6)(1999.1,5.4)(1999.2,5.9)(1999.3,6.3)(1999.4,6.4)(1999.5,6.6)(1999.6,6.5)(1999.7,6.8)(1999.8,6.7)(1999.9,7.0)(2000.0,7.1)(2000.1,7.0)(2000.2,7.3)(2000.3,7.5)(2000.4,7.4)(2000.5,7.7)(2000.6,7.85)(2000.7,7.6)(2000.8,7.5)(2000.9,7.3)(2001.0,7.1)(2001.1,7.2)(2001.2,7.4)(2001.3,7.2)(2001.4,7.4)(2001.5,7.0)(2001.6,6.6)(2001.7,6.4)(2001.75,6.1)(2001.8,6.8)(2001.9,6.5)(2002.0,6.7)(2002.1,7.0)(2002.2,7.2)(2002.3,7.4)(2002.4,7.7)(2002.5,7.3)(2002.6,7.1)(2002.7,6.8)(2002.8,6.4)(2002.9,6.1)(2003.0,5.8)(2003.1,5.5)(2003.2,5.0)(2003.3,4.4)(2003.35,3.6)(2003.4,3.9)(2003.5,3.7)(2003.6,4.0)(2003.7,3.5)(2003.8,3.0)(2003.9,2.7)(2004.0,2.4)(2004.1,3.0)(2004.2,3.1)(2004.3,2.7)(2004.4,2.6)(2004.5,2.8)(2004.6,2.5)(2004.7,2.6)(2004.8,2.7)(2004.9,2.6)(2005.0,2.8)(2005.1,2.7)(2005.2,2.9)(2005.3,2.8)(2005.4,3.0)(2005.5,3.2)(2005.6,3.1)(2005.7,3.4)(2005.8,3.5)(2005.9,3.7)(2006.0,3.6)(2006.1,3.8)(2006.2,4.0)(2006.3,4.2)(2006.4,4.3)(2006.5,4.4)(2006.6,4.6)(2006.7,4.5)(2006.8,4.8)(2006.9,5.0)(2007.0,5.0)(2007.1,5.2)(2007.2,5.4)(2007.3,5.7)(2007.4,5.8)(2007.5,5.7)(2007.6,5.6)(2007.7,5.8)(2007.8,5.5)(2007.9,5.6)(2008.0,5.7)(2008.1,5.8)(2008.2,6.0)(2008.3,6.3)(2008.4,6.6)(2008.45,6.85)(2008.5,6.7)(2008.55,6.3)(2008.6,6.5)(2008.65,6.4)(2008.7,6.6)(2008.75,5.9)(2008.8,5.3)(2008.85,4.2)(2008.9,3.2)(2008.95,2.9)(2009.0,2.8)(2009.1,2.9)(2009.2,2.7)(2009.3,2.9)(2009.4,2.8)(2009.5,3.1)(2009.6,3.5)(2009.7,3.3)(2009.8,3.4)(2009.9,3.3)(2010.0,3.2)(2010.1,3.4)(2010.2,3.2)(2010.3,3.1)(2010.4,3.2)(2010.5,3.1)(2010.6,3.0)(2010.7,2.9)(2010.8,3.0)(2010.9,3.3)(2011.0,3.4)(2011.1,3.5)(2011.2,3.6)(2011.3,3.7)(2011.4,3.55)};
\addlegendentry{NOK, 2 Year}
\addplot[darkpurple] coordinates {(1995.6,7.6)(1995.7,7.4)(1995.8,7.1)(1995.9,7.3)(1996.0,6.9)(1996.1,7.1)(1996.2,7.3)(1996.3,7.5)(1996.4,7.2)(1996.5,7.4)(1996.6,7.5)(1996.7,7.6)(1996.8,7.3)(1996.9,7.0)(1997.0,6.5)(1997.1,5.9)(1997.2,6.3)(1997.3,6.4)(1997.4,6.2)(1997.5,6.4)(1997.6,6.3)(1997.7,6.2)(1997.8,6.1)(1997.9,5.9)(1998.0,5.8)(1998.1,5.6)(1998.2,5.7)(1998.3,5.6)(1998.4,5.8)(1998.5,6.0)(1998.6,6.1)(1998.65,5.8)(1998.7,6.2)(1998.75,5.9)(1998.8,5.5)(1998.9,5.4)(1999.0,5.6)(1999.1,5.9)(1999.2,6.2)(1999.3,7.2)(1999.35,6.6)(1999.4,7.0)(1999.5,6.8)(1999.6,6.9)(1999.7,7.0)(1999.8,6.8)(1999.9,7.0)(2000.0,7.0)(2000.1,6.9)(2000.2,7.1)(2000.3,7.0)(2000.4,7.2)(2000.5,7.1)(2000.6,6.9)(2000.7,7.0)(2000.8,7.2)(2000.9,7.0)(2001.0,6.8)(2001.1,6.9)(2001.2,7.1)(2001.3,7.3)(2001.4,7.1)(2001.5,7.3)(2001.6,7.0)(2001.7,6.8)(2001.8,6.9)(2001.9,6.6)(2002.0,6.8)(2002.1,7.0)(2002.2,6.9)(2002.3,7.2)(2002.4,7.1)(2002.5,6.8)(2002.6,6.6)(2002.7,6.4)(2002.8,6.3)(2002.9,6.1)(2003.0,5.8)(2003.1,5.6)(2003.2,5.5)(2003.3,5.4)(2003.35,4.9)(2003.4,5.2)(2003.5,5.3)(2003.6,5.2)(2003.7,5.3)(2003.8,5.0)(2003.9,5.1)(2004.0,4.8)(2004.1,4.7)(2004.2,4.8)(2004.3,5.2)(2004.35,5.1)(2004.4,4.9)(2004.5,4.8)(2004.6,4.6)(2004.7,4.5)(2004.8,4.4)(2004.9,4.3)(2005.0,4.2)(2005.1,4.4)(2005.2,4.0)(2005.3,4.1)(2005.4,3.9)(2005.5,4.1)(2005.6,4.0)(2005.7,4.2)(2005.8,4.1)(2005.9,4.3)(2006.0,4.1)(2006.1,4.3)(2006.2,4.4)(2006.3,4.6)(2006.4,4.5)(2006.5,4.7)(2006.6,4.6)(2006.7,4.5)(2006.8,4.7)(2006.9,4.6)(2007.0,4.8)(2007.1,5.0)(2007.2,5.1)(2007.3,5.4)(2007.4,5.6)(2007.5,5.7)(2007.6,5.6)(2007.7,5.5)(2007.8,5.4)(2007.9,5.3)(2008.0,5.3)(2008.1,5.2)(2008.2,5.4)(2008.3,5.6)(2008.4,5.7)(2008.5,5.95)(2008.55,5.6)(2008.6,5.8)(2008.7,5.5)(2008.8,5.2)(2008.85,4.9)(2008.9,4.3)(2009.0,4.4)(2009.1,4.2)(2009.2,4.4)(2009.3,4.6)(2009.4,4.7)(2009.5,4.75)(2009.6,4.6)(2009.7,4.7)(2009.8,4.6)(2009.9,4.6)(2010.0,4.6)(2010.1,4.5)(2010.2,4.4)(2010.3,4.3)(2010.4,4.2)(2010.5,4.0)(2010.55,3.9)(2010.6,3.7)(2010.65,4.0)(2010.7,4.0)(2010.8,4.2)(2010.9,4.3)(2011.0,4.5)(2011.1,4.6)(2011.2,4.7)(2011.3,4.5)(2011.35,4.6)(2011.4,4.4)};
\addlegendentry{NOK, 10 Year}
\end{axis}
\begin{axis}[tsbase, at={(534.3pt,-822.7pt)}, width=375.7pt, height=195.3pt,
  xmin=1995.5, xmax=2011.57, ymin=-2.36, ymax=8.36,
  axis y line*=right, axis x line=none,
  ytick={-2,-1,0,1,2,3,4,5,6,7,8}, yticklabels={-2,-1,0,1,2,3,4,5,6,7,8}]
\end{axis}

% ================= P7 CDS
\begin{axis}[tsbase, at={(73.3pt,-1119.3pt)}, width=328.4pt, height=198pt,
  xmin=2007.96, xmax=2011.42, ymin=-21, ymax=1251,
  ytick pos=left, xtick pos=left, minor y tick num=1,
  xtick={2008,2009,2010,2011,2011.42}, x tick label as interval, xticklabels={2008,2009,2010,2011},
  ytick={0,200,400,600,800,1000,1200}, yticklabels={0,200,400,600,800,1000,1200},
  ylabel={Basis Points}, ylabel style={at={(axis description cs:-0.138,0.5)}},
  legend style={at={(axis description cs:-0.162,-0.196)}}]
\addplot[navy] coordinates {(2008.00,30)(2008.04,38)(2008.08,45)(2008.12,42)(2008.17,50)(2008.21,55)(2008.24,50)(2008.28,45)(2008.31,42)(2008.36,40)(2008.42,40)(2008.47,44)(2008.52,45)(2008.58,48)(2008.63,52)(2008.66,55)(2008.70,62)(2008.73,75)(2008.77,95)(2008.80,105)(2008.84,100)(2008.87,115)(2008.91,120)(2008.94,135)(2008.98,130)(2009.01,145)(2009.05,155)(2009.08,170)(2009.10,160)(2009.12,150)(2009.15,140)(2009.19,130)(2009.23,125)(2009.26,110)(2009.30,105)(2009.33,95)(2009.37,90)(2009.40,85)(2009.44,80)(2009.47,75)(2009.51,70)(2009.55,72)(2009.58,65)(2009.62,62)(2009.65,60)(2009.68,65)(2009.72,70)(2009.75,68)(2009.79,78)(2009.82,85)(2009.86,90)(2009.89,95)(2009.93,100)(2009.96,108)(2010.00,115)(2010.02,125)(2010.04,130)(2010.07,140)(2010.11,150)(2010.14,130)(2010.18,118)(2010.21,125)(2010.25,140)(2010.28,160)(2010.31,190)(2010.33,230)(2010.35,300)(2010.37,260)(2010.39,240)(2010.42,225)(2010.44,230)(2010.47,215)(2010.49,225)(2010.53,200)(2010.56,180)(2010.60,190)(2010.63,200)(2010.67,215)(2010.70,210)(2010.74,205)(2010.77,190)(2010.81,200)(2010.85,210)(2010.88,225)(2010.92,250)(2010.95,280)(2010.97,300)(2011.00,305)(2011.02,310)(2011.05,300)(2011.07,290)(2011.09,275)(2011.11,260)(2011.14,230)(2011.16,220)(2011.20,210)(2011.23,205)(2011.27,200)(2011.30,215)(2011.32,220)(2011.35,225)(2011.39,230)};
\addlegendentry{Spain}
\addplot[ltgreen] coordinates {(2008.00,30)(2008.05,45)(2008.10,60)(2008.15,75)(2008.20,90)(2008.24,70)(2008.31,50)(2008.38,45)(2008.45,55)(2008.52,50)(2008.59,58)(2008.66,60)(2008.70,75)(2008.73,90)(2008.77,110)(2008.80,120)(2008.84,150)(2008.87,140)(2008.91,160)(2008.94,175)(2008.98,190)(2009.01,200)(2009.04,230)(2009.05,250)(2009.06,760)(2009.07,740)(2009.08,300)(2009.10,260)(2009.13,230)(2009.15,200)(2009.19,210)(2009.22,190)(2009.26,200)(2009.30,170)(2009.33,180)(2009.37,160)(2009.40,175)(2009.44,150)(2009.47,155)(2009.51,140)(2009.54,150)(2009.58,135)(2009.61,125)(2009.65,130)(2009.68,120)(2009.72,125)(2009.75,135)(2009.79,130)(2009.82,160)(2009.86,200)(2009.89,240)(2009.93,280)(2009.96,300)(2010.00,290)(2010.04,340)(2010.07,350)(2010.11,320)(2010.14,330)(2010.18,370)(2010.21,380)(2010.23,300)(2010.25,320)(2010.28,340)(2010.31,400)(2010.33,600)(2010.35,900)(2010.37,800)(2010.39,920)(2010.40,1000)(2010.42,960)(2010.44,900)(2010.46,970)(2010.48,880)(2010.51,820)(2010.53,800)(2010.55,790)(2010.58,820)(2010.60,760)(2010.62,700)(2010.65,790)(2010.67,820)(2010.69,840)(2010.72,760)(2010.74,780)(2010.76,760)(2010.79,720)(2010.81,700)(2010.83,690)(2010.85,680)(2010.88,650)(2010.89,700)(2010.91,1000)(2010.93,1060)(2010.95,980)(2010.97,950)(2011.00,1000)(2011.02,1090)(2011.04,1040)(2011.06,1000)(2011.07,1050)(2011.09,1040)(2011.11,980)(2011.13,700)(2011.15,760)(2011.16,800)(2011.18,850)(2011.20,880)(2011.23,900)(2011.25,880)(2011.27,900)(2011.29,940)(2011.30,950)(2011.32,960)(2011.34,1180)(2011.36,1140)(2011.37,1170)(2011.39,1160)};
\addlegendentry{Greece}
\addplot[dkgreen] coordinates {(2008.00,25)(2008.04,32)(2008.08,38)(2008.12,36)(2008.17,42)(2008.21,46)(2008.24,44)(2008.28,42)(2008.31,40)(2008.36,38)(2008.42,40)(2008.47,43)(2008.52,45)(2008.58,47)(2008.63,50)(2008.66,52)(2008.70,60)(2008.73,72)(2008.77,92)(2008.80,105)(2008.84,100)(2008.87,120)(2008.91,135)(2008.94,150)(2008.98,160)(2009.01,170)(2009.05,180)(2009.08,190)(2009.10,185)(2009.12,170)(2009.15,155)(2009.19,140)(2009.23,130)(2009.26,118)(2009.30,108)(2009.33,100)(2009.37,95)(2009.40,88)(2009.44,82)(2009.47,75)(2009.51,70)(2009.55,68)(2009.58,62)(2009.62,58)(2009.65,55)(2009.68,58)(2009.72,62)(2009.75,66)(2009.79,72)(2009.82,80)(2009.86,88)(2009.89,95)(2009.93,100)(2009.96,105)(2010.00,110)(2010.04,120)(2010.07,130)(2010.11,120)(2010.14,108)(2010.18,115)(2010.21,122)(2010.25,130)(2010.28,140)(2010.31,160)(2010.33,185)(2010.35,200)(2010.37,180)(2010.40,170)(2010.42,160)(2010.45,150)(2010.49,155)(2010.53,165)(2010.56,170)(2010.60,150)(2010.63,130)(2010.67,170)(2010.70,190)(2010.74,180)(2010.77,170)(2010.81,175)(2010.85,180)(2010.88,185)(2010.92,190)(2010.95,185)(2010.97,195)(2011.00,220)(2011.02,240)(2011.04,215)(2011.07,190)(2011.11,180)(2011.14,170)(2011.18,175)(2011.20,160)(2011.24,150)(2011.27,140)(2011.29,130)(2011.31,165)(2011.32,190)(2011.35,175)(2011.39,170)};
\addlegendentry{Italy}
\addplot[lightpurple] coordinates {(2008.00,25)(2008.10,30)(2008.20,40)(2008.31,42)(2008.42,45)(2008.52,50)(2008.60,55)(2008.66,60)(2008.73,100)(2008.80,120)(2008.84,170)(2008.87,150)(2008.91,130)(2008.94,150)(2008.98,180)(2009.01,200)(2009.05,190)(2009.08,200)(2009.12,250)(2009.15,380)(2009.17,400)(2009.19,390)(2009.22,330)(2009.26,300)(2009.30,260)(2009.33,250)(2009.37,240)(2009.40,230)(2009.44,220)(2009.47,210)(2009.51,200)(2009.55,215)(2009.58,210)(2009.62,220)(2009.65,230)(2009.68,210)(2009.72,200)(2009.75,170)(2009.79,160)(2009.82,150)(2009.86,150)(2009.89,155)(2009.93,160)(2009.96,155)(2010.00,160)(2010.04,170)(2010.07,165)(2010.11,150)(2010.14,145)(2010.18,150)(2010.21,140)(2010.25,145)(2010.28,160)(2010.32,180)(2010.35,220)(2010.37,300)(2010.40,280)(2010.42,270)(2010.46,300)(2010.49,320)(2010.51,300)(2010.55,280)(2010.58,300)(2010.60,270)(2010.63,240)(2010.67,250)(2010.70,260)(2010.72,300)(2010.74,400)(2010.77,440)(2010.79,420)(2010.83,400)(2010.85,405)(2010.88,410)(2010.90,460)(2010.92,560)(2010.95,580)(2010.97,600)(2011.00,620)(2011.02,650)(2011.04,700)(2011.07,730)(2011.09,720)(2011.11,740)(2011.13,680)(2011.16,720)(2011.18,700)(2011.20,680)(2011.23,650)(2011.25,640)(2011.27,620)(2011.29,600)(2011.30,680)(2011.32,760)(2011.34,770)(2011.37,740)(2011.39,700)};
\addlegendentry{Ireland}
\addplot[darkpurple] coordinates {(2008.00,25)(2008.10,35)(2008.20,40)(2008.31,38)(2008.42,40)(2008.52,45)(2008.60,55)(2008.66,60)(2008.73,80)(2008.80,110)(2008.84,120)(2008.87,115)(2008.94,140)(2009.01,150)(2009.05,160)(2009.08,170)(2009.12,150)(2009.19,120)(2009.26,110)(2009.33,90)(2009.40,95)(2009.47,80)(2009.54,70)(2009.58,75)(2009.65,60)(2009.72,58)(2009.79,55)(2009.86,70)(2009.89,80)(2009.93,95)(2009.96,100)(2010.00,200)(2010.02,240)(2010.04,150)(2010.05,120)(2010.11,125)(2010.18,130)(2010.25,150)(2010.28,200)(2010.32,300)(2010.35,500)(2010.37,300)(2010.40,340)(2010.44,320)(2010.48,350)(2010.51,300)(2010.53,280)(2010.56,310)(2010.60,300)(2010.65,250)(2010.70,280)(2010.74,330)(2010.79,350)(2010.83,330)(2010.85,320)(2010.88,320)(2010.92,320)(2010.95,310)(2010.97,500)(2011.00,530)(2011.02,510)(2011.06,460)(2011.09,480)(2011.11,450)(2011.14,400)(2011.16,450)(2011.18,460)(2011.20,470)(2011.23,470)(2011.27,480)(2011.30,560)(2011.32,570)(2011.34,590)(2011.36,600)(2011.37,580)(2011.39,550)};
\addlegendentry{Portugal}
\end{axis}
\begin{axis}[tsbase, at={(73.3pt,-1119.3pt)}, width=328.4pt, height=198pt,
  xmin=2007.96, xmax=2011.42, ymin=-21, ymax=1251,
  axis y line*=right, axis x line=none, minor y tick num=1,
  ytick={0,200,400,600,800,1000,1200}, yticklabels={0,200,400,600,800,1000,1200}]
\end{axis}

% ================= P8 spread and NOK/EUR
\begin{axis}[tsbase, at={(562.7pt,-1119.3pt)}, width=314pt, height=196.7pt,
  xmin=1998.84, xmax=2011.6, ymin=6.86, ymax=10.63, y dir=reverse,
  ytick pos=left, xtick pos=left,
  xtick={1999,2001,2003,2005,2007,2009,2011}, xticklabels={1999,2001,2003,2005,2007,2009,2011},
  ytick={7,7.5,8,8.5,9,9.5,10,10.5}, yticklabels={7.0,7.5,8.0,8.5,9.0,9.5,10.0,10.5}]
\addplot[lightpurple] coordinates {(1999.00,8.90)(1999.03,8.60)(1999.06,8.75)(1999.10,8.50)(1999.15,8.40)(1999.20,8.55)(1999.25,8.60)(1999.30,8.35)(1999.35,8.30)(1999.40,8.20)(1999.45,8.15)(1999.50,8.10)(1999.55,8.20)(1999.60,8.30)(1999.70,8.20)(1999.80,8.10)(1999.90,8.15)(2000.00,8.20)(2000.10,8.05)(2000.20,8.00)(2000.30,8.05)(2000.40,8.10)(2000.50,8.20)(2000.60,8.30)(2000.70,8.20)(2000.80,8.10)(2000.90,8.00)(2001.00,8.05)(2001.10,8.15)(2001.20,8.25)(2001.30,8.30)(2001.40,8.05)(2001.50,7.90)(2001.60,8.00)(2001.70,8.05)(2001.80,7.95)(2001.90,8.00)(2002.00,7.90)(2002.10,7.80)(2002.20,7.70)(2002.30,7.60)(2002.40,7.50)(2002.50,7.45)(2002.60,7.40)(2002.70,7.35)(2002.80,7.30)(2002.90,7.28)(2002.95,7.25)(2003.00,7.40)(2003.05,7.60)(2003.10,7.90)(2003.15,8.10)(2003.20,8.20)(2003.30,8.30)(2003.40,8.25)(2003.50,8.15)(2003.60,8.25)(2003.70,8.30)(2003.80,8.40)(2003.90,8.55)(2004.00,8.70)(2004.05,8.80)(2004.10,8.65)(2004.20,8.40)(2004.30,8.25)(2004.40,8.10)(2004.50,8.15)(2004.60,8.30)(2004.70,8.25)(2004.80,8.15)(2004.90,8.20)(2005.00,8.05)(2005.10,8.00)(2005.20,8.15)(2005.30,8.20)(2005.40,8.05)(2005.50,7.95)(2005.60,7.85)(2005.70,7.80)(2005.80,7.85)(2005.90,7.80)(2006.00,7.95)(2006.10,7.90)(2006.20,8.05)(2006.30,7.95)(2006.40,7.85)(2006.50,7.75)(2006.60,7.85)(2006.70,7.95)(2006.80,8.10)(2006.90,8.30)(2007.00,8.40)(2007.05,8.35)(2007.10,8.20)(2007.20,8.10)(2007.30,8.05)(2007.40,8.00)(2007.50,7.90)(2007.60,7.75)(2007.65,7.65)(2007.70,7.80)(2007.80,7.90)(2007.90,7.85)(2008.00,7.95)(2008.10,7.85)(2008.20,7.95)(2008.30,7.90)(2008.40,7.95)(2008.50,8.00)(2008.60,7.95)(2008.70,8.05)(2008.75,8.30)(2008.80,8.60)(2008.85,8.90)(2008.90,9.20)(2008.95,9.40)(2009.00,9.60)(2009.03,10.05)(2009.05,9.10)(2009.08,8.85)(2009.12,8.75)(2009.20,8.90)(2009.25,8.70)(2009.30,8.80)(2009.40,8.95)(2009.45,9.00)(2009.50,8.70)(2009.55,8.55)(2009.60,8.45)(2009.70,8.30)(2009.80,8.20)(2009.90,8.10)(2010.00,8.15)(2010.10,8.00)(2010.20,8.05)(2010.30,7.85)(2010.35,7.75)(2010.40,7.90)(2010.50,8.00)(2010.60,7.95)(2010.70,8.00)(2010.75,8.15)(2010.80,8.05)(2010.90,7.90)(2011.00,7.80)(2011.05,7.95)(2011.10,7.85)(2011.20,7.75)(2011.25,7.70)(2011.30,7.85)(2011.40,7.90)(2011.47,7.90)};
\end{axis}
\begin{axis}[tsbase, at={(562.7pt,-1119.3pt)}, width=314pt, height=196.7pt,
  xmin=1998.84, xmax=2011.6, ymin=-0.33, ymax=2.09,
  axis y line*=right, axis x line=none,
  ytick={-0.25,0,0.25,0.5,0.75,1,1.25,1.5,1.75,2},
  yticklabels={-0.25,0.00,0.25,0.50,0.75,1.00,1.25,1.50,1.75,2.00},
  legend style={at={(axis description cs:-0.1615,-0.198)}}]
\addlegendimage{lightpurple}
\addlegendentry{nok/eur, lhs}
\addplot[darkpurple] coordinates {(1999.00,1.45)(1999.02,1.30)(1999.04,1.10)(1999.06,0.80)(1999.08,0.90)(1999.12,0.85)(1999.16,0.95)(1999.20,1.05)(1999.25,1.10)(1999.30,1.00)(1999.35,1.05)(1999.40,0.95)(1999.45,0.90)(1999.50,0.95)(1999.55,0.85)(1999.60,0.90)(1999.70,0.80)(1999.80,0.75)(1999.90,0.80)(2000.00,0.78)(2000.10,0.82)(2000.20,0.80)(2000.30,0.85)(2000.40,0.88)(2000.50,0.95)(2000.60,1.00)(2000.70,0.98)(2000.80,1.05)(2000.90,1.10)(2001.00,1.08)(2001.10,1.15)(2001.20,1.22)(2001.30,1.25)(2001.35,1.35)(2001.40,1.50)(2001.45,1.55)(2001.50,1.60)(2001.55,1.62)(2001.60,1.52)(2001.65,1.58)(2001.70,1.50)(2001.80,1.45)(2001.90,1.38)(2002.00,1.35)(2002.10,1.40)(2002.20,1.45)(2002.30,1.55)(2002.40,1.70)(2002.45,1.85)(2002.50,1.70)(2002.55,1.62)(2002.60,1.70)(2002.70,1.68)(2002.80,1.58)(2002.90,1.55)(2003.00,1.48)(2003.10,1.35)(2003.20,1.20)(2003.25,1.10)(2003.30,0.98)(2003.35,0.92)(2003.40,0.85)(2003.50,0.80)(2003.60,0.75)(2003.70,0.65)(2003.80,0.55)(2003.85,0.40)(2003.90,0.30)(2004.00,0.20)(2004.05,0.10)(2004.10,0.00)(2004.15,0.20)(2004.20,0.35)(2004.25,0.55)(2004.30,0.65)(2004.35,0.55)(2004.40,0.40)(2004.45,0.25)(2004.50,0.20)(2004.60,0.22)(2004.70,0.25)(2004.80,0.28)(2004.90,0.30)(2005.00,0.32)(2005.10,0.35)(2005.20,0.38)(2005.30,0.36)(2005.40,0.40)(2005.50,0.42)(2005.60,0.45)(2005.70,0.48)(2005.80,0.52)(2005.85,0.55)(2005.90,0.48)(2006.00,0.40)(2006.10,0.32)(2006.20,0.25)(2006.30,0.18)(2006.40,0.08)(2006.45,0.10)(2006.50,0.18)(2006.60,0.25)(2006.70,0.30)(2006.80,0.35)(2006.90,0.40)(2007.00,0.42)(2007.10,0.48)(2007.20,0.52)(2007.30,0.55)(2007.40,0.60)(2007.50,0.58)(2007.60,0.55)(2007.70,0.62)(2007.80,0.70)(2007.85,0.55)(2007.90,0.42)(2008.00,0.40)(2008.10,0.45)(2008.20,0.38)(2008.30,0.42)(2008.40,0.35)(2008.50,0.40)(2008.60,0.45)(2008.65,0.42)(2008.70,0.30)(2008.75,0.20)(2008.80,0.10)(2008.85,0.05)(2008.90,0.25)(2008.95,0.45)(2009.00,0.70)(2009.05,0.55)(2009.10,0.75)(2009.15,0.65)(2009.20,0.80)(2009.30,0.88)(2009.35,0.92)(2009.40,0.85)(2009.50,0.80)(2009.60,0.75)(2009.70,0.78)(2009.80,0.70)(2009.90,0.78)(2010.00,0.72)(2010.10,0.65)(2010.20,0.70)(2010.30,0.75)(2010.40,0.80)(2010.50,0.72)(2010.60,0.85)(2010.70,0.80)(2010.80,0.75)(2010.90,0.95)(2010.95,1.00)(2011.00,0.85)(2011.05,0.78)(2011.10,0.70)(2011.15,0.72)(2011.20,0.60)(2011.25,0.55)(2011.30,0.50)(2011.35,0.45)(2011.40,0.35)(2011.47,0.30)};
\addlegendentry{10 år Statspread Nor-Tys, rhs}
\end{axis}
\end{tikzpicture}
\end{document}
